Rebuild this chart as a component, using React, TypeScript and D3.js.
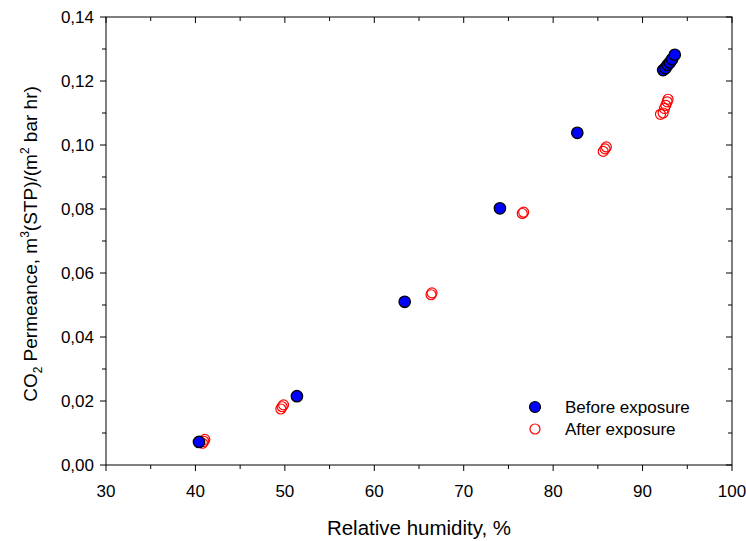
import React from "react";
import * as d3 from "d3";

const beforeX = [40.4, 51.35, 63.4, 74.05, 82.7, 92.3, 92.55, 92.8, 93.05, 93.3, 93.6];
const beforeY = [0.0072, 0.0215, 0.0510, 0.0802, 0.1038, 0.1234, 0.1240, 0.1250, 0.1258, 0.1268, 0.1282];
const afterX = [40.8, 40.95, 41.05, 49.55, 49.7, 49.85, 66.35, 66.45, 76.55, 76.7, 85.6, 85.8, 85.95, 92.0, 92.3, 92.45, 92.6, 92.75, 92.85];
const afterY = [0.0068, 0.0074, 0.0080, 0.0175, 0.0182, 0.0188, 0.0532, 0.0538, 0.0786, 0.0790, 0.0980, 0.0988, 0.0994, 0.1096, 0.1100, 0.1114, 0.1124, 0.1135, 0.1143];
const xTicks = [30, 40, 50, 60, 70, 80, 90, 100];
const xMinor = [35, 45, 55, 65, 75, 85, 95];
const yTicks = [0, 0.02, 0.04, 0.06, 0.08, 0.1, 0.12, 0.14];
const yMinor = [0.01, 0.03, 0.05, 0.07, 0.09, 0.11, 0.13];
const legendLabels = ["Before exposure", "After exposure"];

const W = 746, H = 541;
const L = 106, R = 732, T = 17, B = 465;

export default function App() {
  const x = d3.scaleLinear().domain([30, 100]).range([L, R]);
  const y = d3.scaleLinear().domain([0, 0.14]).range([B, T]);
  const fmt = (v: number) => d3.format(".2f")(v).replace(".", ",");
  const font = "Arial, 'Liberation Sans', sans-serif";
  const major = 6, minor = 4;
  return (
    <svg width={W} height={H} style={{ position: "absolute", left: 0, top: 0 }} fontFamily={font}>
      <rect x={0} y={0} width={W} height={H} fill="white" />
      <rect x={L} y={T} width={R - L} height={B - T} fill="none" stroke="black" strokeWidth={1} />
      {xTicks.map((t) => (
        <g key={"xb" + t}>
          <line x1={x(t)} x2={x(t)} y1={B} y2={B + major} stroke="black" />
          <line x1={x(t)} x2={x(t)} y1={T} y2={T + major} stroke="black" />
          <text x={x(t)} y={B + 32} fontSize={17} textAnchor="middle">{t}</text>
        </g>
      ))}
      {xMinor.map((t) => (
        <g key={"xm" + t}>
          <line x1={x(t)} x2={x(t)} y1={B} y2={B + minor} stroke="black" />
          <line x1={x(t)} x2={x(t)} y1={T} y2={T + minor} stroke="black" />
        </g>
      ))}
      {yTicks.map((t) => (
        <g key={"yl" + t}>
          <line x1={L - major} x2={L} y1={y(t)} y2={y(t)} stroke="black" />
          <line x1={R - major} x2={R} y1={y(t)} y2={y(t)} stroke="black" />
          <text x={L - 12} y={y(t) + 6} fontSize={17} textAnchor="end">{fmt(t)}</text>
        </g>
      ))}
      {yMinor.map((t) => (
        <g key={"ym" + t}>
          <line x1={L - minor} x2={L} y1={y(t)} y2={y(t)} stroke="black" />
          <line x1={R - minor} x2={R} y1={y(t)} y2={y(t)} stroke="black" />
        </g>
      ))}
      {afterX.map((v, i) => (
        <circle key={"a" + i} cx={x(v)} cy={y(afterY[i])} r={5} fill="none" stroke="#ff0000" strokeWidth={1.2} />
      ))}
      {beforeX.map((v, i) => (
        <circle key={"b" + i} cx={x(v)} cy={y(beforeY[i])} r={5.7} fill="#0000ff" stroke="black" strokeWidth={1.3} />
      ))}
      <circle cx={535} cy={407} r={5.5} fill="#0000ff" stroke="black" strokeWidth={1.2} />
      <text x={565} y={413} fontSize={17}>{legendLabels[0]}</text>
      <circle cx={535} cy={429} r={5} fill="none" stroke="#ff0000" strokeWidth={1.2} />
      <text x={565} y={435} fontSize={17}>{legendLabels[1]}</text>
      <text x={(L + R) / 2} y={535} fontSize={20.5} textAnchor="middle">Relative humidity, %</text>
      <text transform={`translate(37, ${(T + B) / 2 + 3}) rotate(-90)`} fontSize={19} textAnchor="middle">
        CO<tspan fontSize={12} dy={5}>2</tspan><tspan dy={-5}> Permeance, m</tspan>
        <tspan fontSize={12} dy={-8}>3</tspan><tspan dy={8}>(STP)/(m</tspan>
        <tspan fontSize={12} dy={-8}>2</tspan><tspan dy={8}> bar hr)</tspan>
      </text>
    </svg>
  );
}
